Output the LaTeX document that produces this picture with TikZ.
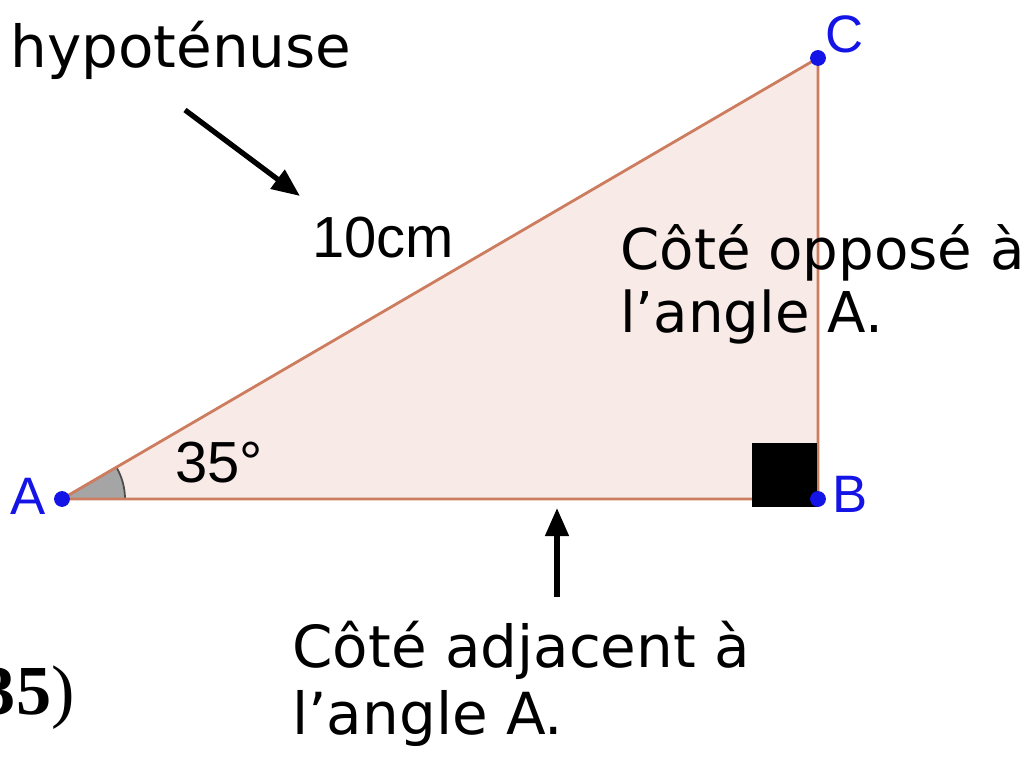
\documentclass[tikz,border=0pt]{standalone}
\usepackage{fontspec}
\setmainfont{DejaVu Sans}
\newfontfamily\geofont{Liberation Sans}
\newfontfamily\serifbold{Liberation Serif}
\usetikzlibrary{arrows.meta, positioning}
\definecolor{triedge}{RGB}{205,125,95}
\definecolor{trifill}{RGB}{248,234,230}
\definecolor{ptblue}{RGB}{20,20,230}
\definecolor{arcgray}{RGB}{165,165,165}
\tikzset{
  ptdot/.style={circle,fill=ptblue,inner sep=0pt,minimum size=9pt},
  ptlabel/.style={text=ptblue,font=\geofont\fontsize{30}{30}\selectfont,inner sep=0pt},
  geolabel/.style={font=\geofont\fontsize{33}{33}\selectfont,inner sep=0pt},
  notelabel/.style={font=\fontsize{33}{36}\selectfont,inner sep=0pt,align=left},
  notearr/.style={-{Triangle[length=16pt,width=13pt]},line width=3pt,black}
}
\begin{document}
\begin{tikzpicture}[x=0.02cm,y=0.02cm]
  \useasboundingbox (0,0) rectangle (1036,758);
  % triangle
  \coordinate (A) at (62,259);
  \coordinate (B) at (818,259);
  \coordinate (C) at (818,700);
  \fill[trifill] (A) -- (B) -- (C) -- cycle;
  \filldraw[fill=arcgray,draw=black!70,line width=1pt] (A) -- ++(63,0) arc[start angle=0,end angle=30.3,radius=63] -- cycle;
  \draw[triedge,line width=1.6pt] (A) -- (B) -- (C) -- cycle;
  \fill[black] (752,251) rectangle (817,315);
  \node[ptdot] (dA) at (A) {};
  \node[ptdot] (dB) at (B) {};
  \node[ptdot] (dC) at (C) {};
  \node[ptlabel,anchor=base west] (lA) at (10,243) {A};
  \node[ptlabel,anchor=base west] (lB) at (832,245) {B};
  \node[ptlabel,anchor=base west] (lC) at (825,705) {C};
  \node[geolabel,anchor=base west] (len) at (312,500) {10cm};
  \node[geolabel,anchor=base west] (ang) at (175,275) {35°};
  % annotations
  \node[notelabel,anchor=base west] (hyp) at (10,690) {hypoténuse};
  \node[notelabel,font=\fontsize{32}{36}\selectfont,anchor=base west] (opp) at (620,488) {Côté opposé à};
  \node[notelabel,font=\fontsize{32}{36}\selectfont,anchor=base west] (opp2) at (620,425) {l’angle A.};
  \node[notelabel,anchor=base west] (adj) at (292,90) {Côté adjacent à};
  \node[notelabel,anchor=base west] (adj2) at (292,23) {l’angle A.};
  \coordinate (hypS) at (185,648);
  \coordinate (hypE) at (300,562);
  \coordinate (adjS) at (557,161);
  \coordinate (adjE) at (557,250);
  \draw[notearr] (hypS) -- (hypE);
  \draw[notearr] (adjS) -- (adjE);
  \node[font=\serifbold\bfseries\fontsize{40}{40}\selectfont,inner sep=0pt,anchor=base east] (cut) at (75,43) {35\textmd{)}};
\end{tikzpicture}
\end{document}
